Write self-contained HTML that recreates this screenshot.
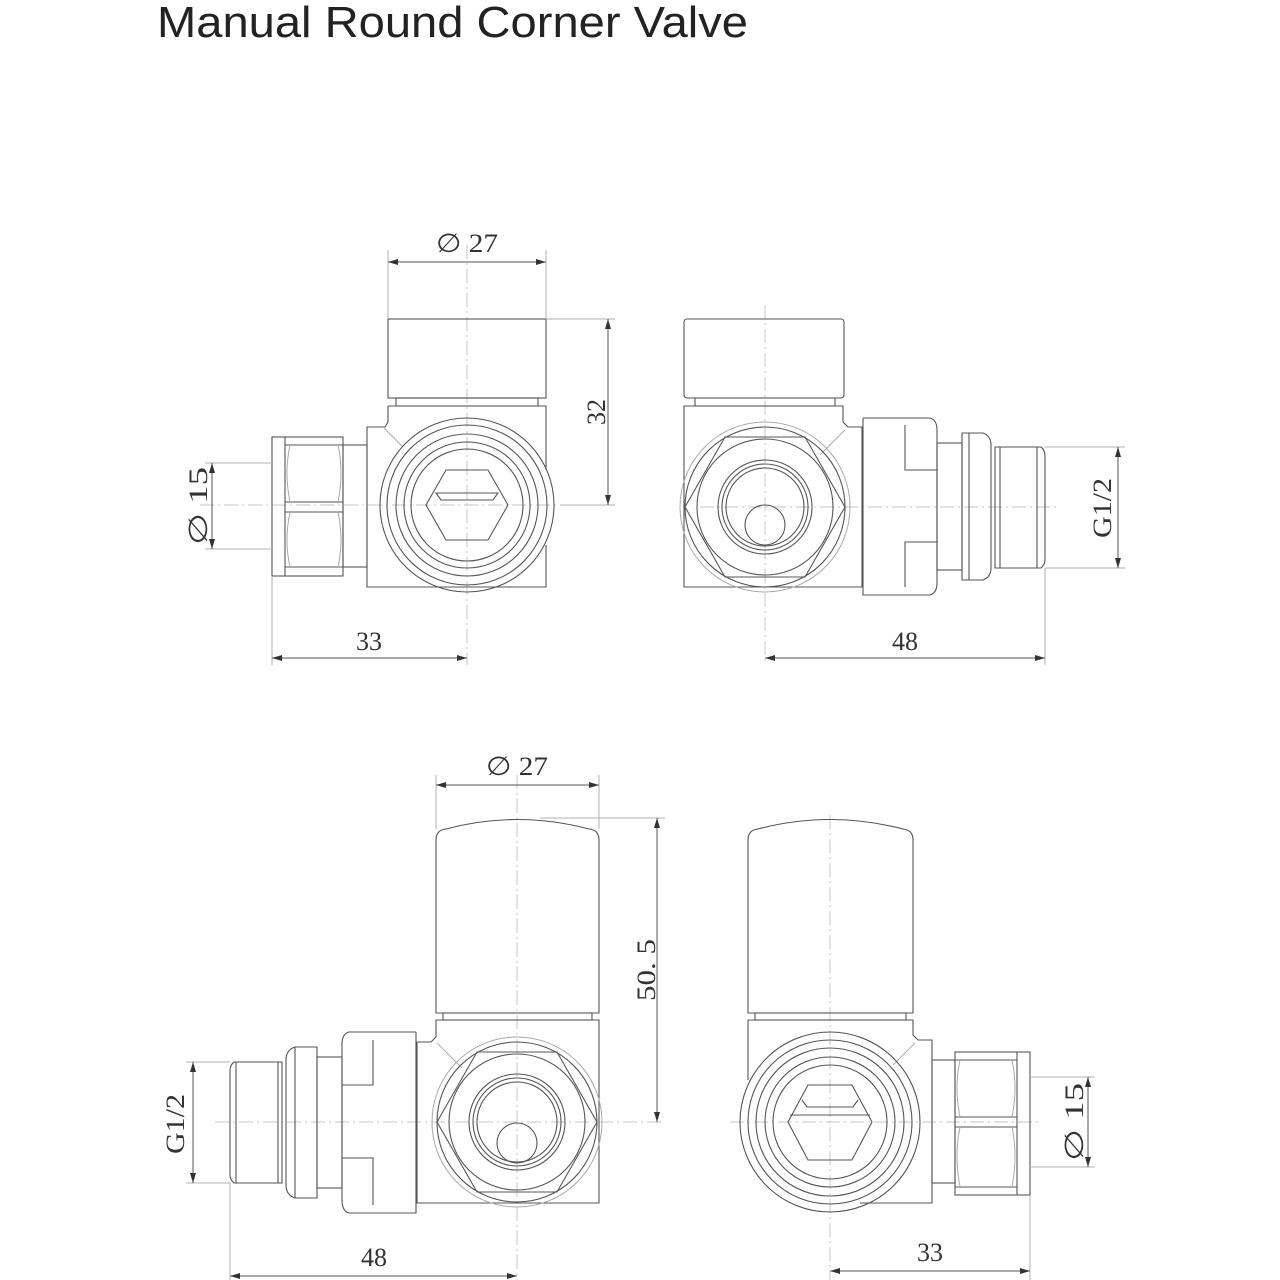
<!DOCTYPE html>
<html><head><meta charset="utf-8"><style>
html,body{margin:0;padding:0;background:#fff}
svg{display:block}
.o{fill:none;stroke:#555;stroke-width:1.1}
.t{fill:none;stroke:#aaa;stroke-width:1}
.c{fill:none;stroke:#c4c4c4;stroke-width:1;stroke-dasharray:14 4 2 4}
.e{fill:none;stroke:#b0b0b0;stroke-width:1}
.d{fill:none;stroke:#555;stroke-width:1;marker-start:url(#a);marker-end:url(#a)}
.l{font-family:"Liberation Serif",serif;font-size:26px;fill:#333}
</style></head><body>
<svg width="1280" height="1280" viewBox="0 0 1280 1280" xmlns="http://www.w3.org/2000/svg">
<defs><marker id="a" viewBox="0 0 10 6" refX="10" refY="3" markerWidth="10" markerHeight="6" orient="auto-start-reverse" markerUnits="userSpaceOnUse"><path d="M0,0 L10,3 L0,6 z" fill="#333"/></marker></defs>
<text x="157" y="37" font-family="Liberation Sans, sans-serif" font-size="44" fill="#222" textLength="591" lengthAdjust="spacingAndGlyphs">Manual Round Corner Valve</text>

<!-- ===== TOP LEFT ===== -->
<g>
<line class="c" x1="467" y1="245" x2="467" y2="665"/>
<line class="c" x1="200" y1="505" x2="560" y2="505"/>
<rect class="o" x="388" y="319" width="158" height="79"/>
<rect class="o" x="396" y="398" width="142" height="8"/>
<path class="o" d="M388,406 H546 V470 M546,545 V587 H367 V427 H385 L388,422 V406"/>
<line class="t" x1="384" y1="428" x2="402" y2="446"/>
<circle class="o" cx="467" cy="505" r="87"/>
<circle class="o" cx="467" cy="505" r="80"/>
<circle class="o" cx="467" cy="505" r="71"/>
<circle class="o" cx="467" cy="505" r="63"/>
<circle class="o" cx="467" cy="505" r="56"/>
<polygon class="o" points="426,505 446,470 488,470 508,505 488,540 446,540"/>
<path class="o" d="M436,493 L441,500 H493 L498,493 Z"/>
<rect class="o" x="343" y="445" width="24" height="122"/>
<rect class="o" x="272" y="437" width="71" height="139"/>
<line class="o" x1="285" y1="437" x2="285" y2="576"/>
<path class="o" d="M285,445 H343 M285,567 H343 M285,502 H343 M285,512 H343"/>
<path class="t" d="M290,445 Q284,473 290,502 M338,445 Q344,473 338,502 M290,512 Q284,540 290,567 M338,512 Q344,540 338,567"/>
<line class="e" x1="388" y1="250" x2="388" y2="319"/>
<line class="e" x1="546" y1="250" x2="546" y2="319"/>
<line class="d" x1="388" y1="262" x2="546" y2="262"/>
<text class="l" x="467" y="252" text-anchor="middle" textLength="62" lengthAdjust="spacingAndGlyphs">∅ 27</text>
<line class="e" x1="546" y1="319" x2="615" y2="319"/>
<line class="e" x1="560" y1="505" x2="615" y2="505"/>
<line class="d" x1="608" y1="319" x2="608" y2="505"/>
<text class="l" transform="translate(605,412) rotate(-90)" text-anchor="middle" textLength="26" lengthAdjust="spacingAndGlyphs">32</text>
<line class="e" x1="205" y1="463" x2="272" y2="463"/>
<line class="e" x1="205" y1="549" x2="272" y2="549"/>
<line class="d" x1="212" y1="463" x2="212" y2="549"/>
<text class="l" transform="translate(207,506) rotate(-90)" text-anchor="middle" textLength="78" lengthAdjust="spacingAndGlyphs">∅ 15</text>
<line class="e" x1="272" y1="576" x2="272" y2="665"/>
<line class="d" x1="272" y1="658" x2="467" y2="658"/>
<text class="l" x="369" y="650" text-anchor="middle" textLength="26" lengthAdjust="spacingAndGlyphs">33</text>
</g>

<!-- ===== TOP RIGHT ===== -->
<g>
<line class="c" x1="765" y1="305" x2="765" y2="665"/>
<line class="c" x1="700" y1="507" x2="1060" y2="507"/>
<rect class="o" x="684" y="319" width="160" height="79" rx="3"/>
<rect class="o" x="695" y="398" width="140" height="8"/>
<path class="o" d="M684,406 H843 V422 L848,427 H862 V587 H684 Z"/>
<line class="t" x1="845" y1="430" x2="820" y2="455"/>
<circle class="t" cx="765" cy="507" r="85"/>
<circle class="o" cx="765" cy="507" r="80"/>
<circle class="o" cx="765" cy="507" r="68"/>
<polygon class="o" points="685,507 725,437 805,437 845,507 805,577 725,577"/>
<circle class="o" cx="765" cy="507" r="47"/>
<circle class="o" cx="765" cy="507" r="43"/>
<circle class="o" cx="765" cy="507" r="39"/>
<circle class="o" cx="765" cy="525" r="20"/>
<path class="o" d="M863,418 H930 Q937,420 937,430 V470 H905 V425 M863,418 V595 H930 Q937,593 937,583 V542 H905 V587 M937,470 V542"/>
<rect class="o" x="937" y="443" width="25" height="127"/>
<path class="o" d="M962,433 H983 Q991,436 991,445 V568 Q991,577 983,580 H962 Z"/>
<line class="o" x1="969" y1="433" x2="969" y2="580"/>
<path class="o" d="M995,447 H1041 Q1045,450 1045,456 V559 Q1045,565 1041,568 H995 Z"/>
<line class="o" x1="1000" y1="447" x2="1000" y2="568"/>
<line class="o" x1="1037" y1="447" x2="1037" y2="568"/>
<line class="e" x1="1045" y1="447" x2="1125" y2="447"/>
<line class="e" x1="1045" y1="568" x2="1125" y2="568"/>
<line class="d" x1="1118" y1="447" x2="1118" y2="568"/>
<text class="l" transform="translate(1111,508) rotate(-90)" text-anchor="middle" textLength="60" lengthAdjust="spacingAndGlyphs">G1/2</text>
<line class="e" x1="1045" y1="568" x2="1045" y2="665"/>
<line class="d" x1="765" y1="658" x2="1045" y2="658"/>
<text class="l" x="905" y="650" text-anchor="middle" textLength="26" lengthAdjust="spacingAndGlyphs">48</text>
</g>

<!-- ===== BOTTOM LEFT ===== -->
<g>
<line class="c" x1="517" y1="775" x2="517" y2="1280"/>
<line class="c" x1="215" y1="1122" x2="665" y2="1122"/>
<path class="o" d="M436,1013 V840 Q436,830 446,829 Q517,810 589,829 Q599,830 599,840 V1013 Z"/>
<rect class="o" x="443" y="1013" width="149" height="7"/>
<path class="o" d="M436,1020 H599 V1203 H417 V1042 H431 L436,1037 Z"/>
<line class="t" x1="437" y1="1043" x2="462" y2="1068"/>
<circle class="t" cx="517" cy="1122" r="85"/>
<circle class="o" cx="517" cy="1122" r="80"/>
<circle class="o" cx="517" cy="1122" r="68"/>
<polygon class="o" points="437,1122 477,1052 557,1052 597,1122 557,1192 477,1192"/>
<circle class="o" cx="517" cy="1122" r="48"/>
<circle class="o" cx="517" cy="1122" r="44"/>
<circle class="o" cx="517" cy="1122" r="40"/>
<circle class="o" cx="517" cy="1143" r="20"/>
<path class="o" d="M416,1032 H349 Q342,1034 342,1044 V1085 H373 V1040 M416,1032 V1213 H349 Q342,1211 342,1200 V1158 H373 V1205 M342,1085 V1158"/>
<rect class="o" x="317" y="1057" width="25" height="131"/>
<path class="o" d="M317,1047 H295 Q286,1050 286,1060 V1185 Q286,1195 295,1198 H317 Z"/>
<line class="o" x1="295" y1="1047" x2="295" y2="1198"/>
<path class="o" d="M282,1062 H234 Q230,1065 230,1071 V1174 Q230,1180 234,1183 H282 Z"/>
<line class="o" x1="236" y1="1062" x2="236" y2="1183"/>
<line class="o" x1="278" y1="1062" x2="278" y2="1183"/>
<line class="e" x1="436" y1="775" x2="436" y2="829"/>
<line class="e" x1="599" y1="775" x2="599" y2="829"/>
<line class="d" x1="436" y1="785" x2="599" y2="785"/>
<text class="l" x="517" y="775" text-anchor="middle" textLength="62" lengthAdjust="spacingAndGlyphs">∅ 27</text>
<line class="e" x1="540" y1="818" x2="665" y2="818"/>
<line class="d" x1="657" y1="818" x2="657" y2="1122"/>
<text class="l" transform="translate(655,970) rotate(-90)" text-anchor="middle" textLength="62" lengthAdjust="spacingAndGlyphs">50. 5</text>
<line class="e" x1="186" y1="1062" x2="230" y2="1062"/>
<line class="e" x1="186" y1="1183" x2="230" y2="1183"/>
<line class="d" x1="193" y1="1062" x2="193" y2="1183"/>
<text class="l" transform="translate(184,1124) rotate(-90)" text-anchor="middle" textLength="60" lengthAdjust="spacingAndGlyphs">G1/2</text>
<line class="e" x1="230" y1="1183" x2="230" y2="1280"/>
<line class="d" x1="230" y1="1276" x2="517" y2="1276"/>
<text class="l" x="374" y="1266" text-anchor="middle" textLength="26" lengthAdjust="spacingAndGlyphs">48</text>
</g>

<!-- ===== BOTTOM RIGHT ===== -->
<g>
<line class="c" x1="830" y1="815" x2="830" y2="1280"/>
<line class="c" x1="730" y1="1122" x2="1040" y2="1122"/>
<path class="o" d="M748,1013 V840 Q748,830 758,829 Q830,810 903,829 Q913,830 913,840 V1013 Z"/>
<rect class="o" x="755" y="1013" width="151" height="7"/>
<path class="o" d="M748,1020 H913 V1035 L918,1040 H932 V1203 H860 M748,1020 V1080"/>
<line class="t" x1="915" y1="1043" x2="893" y2="1065"/>
<circle class="o" cx="830" cy="1122" r="90"/>
<circle class="o" cx="830" cy="1122" r="82"/>
<circle class="o" cx="830" cy="1122" r="74"/>
<circle class="o" cx="830" cy="1122" r="65"/>
<circle class="o" cx="830" cy="1122" r="57"/>
<polygon class="o" points="788,1122 808,1085 852,1085 872,1122 852,1160 808,1160"/>
<path class="o" d="M802,1100 L807,1107 H853 L858,1100 M790,1115 H870"/>
<rect class="o" x="932" y="1060" width="23" height="123"/>
<rect class="o" x="955" y="1052" width="75" height="143"/>
<line class="o" x1="1017" y1="1052" x2="1017" y2="1195"/>
<path class="o" d="M955,1060 H1017 M955,1187 H1017 M955,1117 H1017 M955,1127 H1017"/>
<path class="t" d="M960,1060 Q954,1088 960,1117 M1012,1060 Q1018,1088 1012,1117 M960,1127 Q954,1155 960,1187 M1012,1127 Q1018,1155 1012,1187"/>
<line class="e" x1="1030" y1="1077" x2="1095" y2="1077"/>
<line class="e" x1="1030" y1="1167" x2="1095" y2="1167"/>
<line class="d" x1="1088" y1="1077" x2="1088" y2="1167"/>
<text class="l" transform="translate(1083,1122) rotate(-90)" text-anchor="middle" textLength="78" lengthAdjust="spacingAndGlyphs">∅ 15</text>
<line class="e" x1="1030" y1="1195" x2="1030" y2="1280"/>
<line class="d" x1="830" y1="1271" x2="1030" y2="1271"/>
<text class="l" x="930" y="1261" text-anchor="middle" textLength="26" lengthAdjust="spacingAndGlyphs">33</text>
</g>
</svg>
</body></html>
